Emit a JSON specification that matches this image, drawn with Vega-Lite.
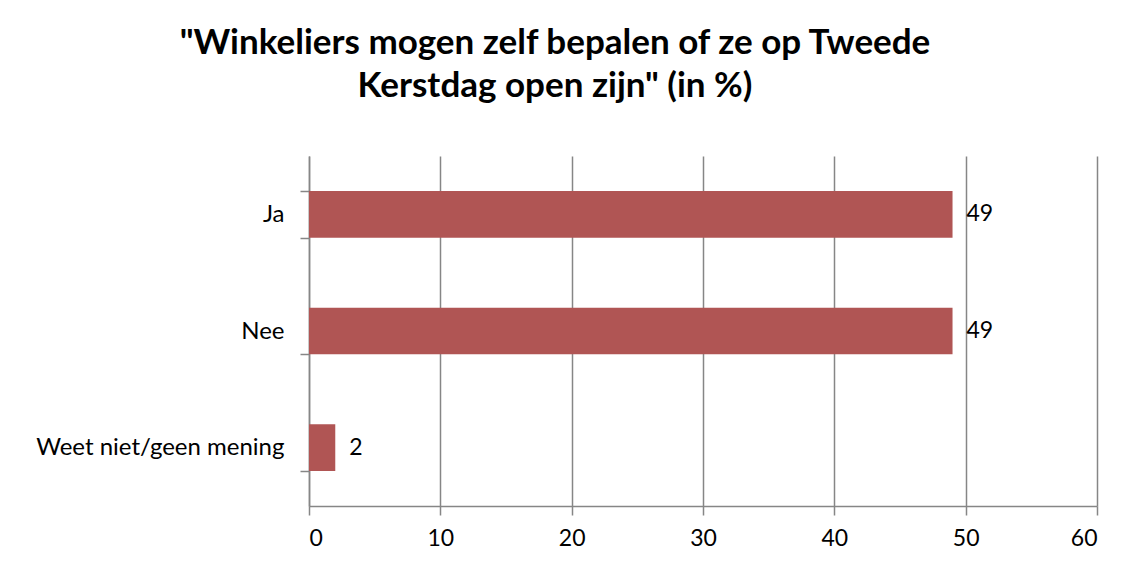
{
  "$schema": "https://vega.github.io/schema/vega-lite/v6.json",
  "autosize": {"type": "none"},
  "width": 788,
  "height": 350,
  "padding": {"left": 309, "top": 156, "right": 33, "bottom": 57},
  "background": "white",
  "title": {
    "text": ["\"Winkeliers mogen zelf bepalen of ze op Tweede", "Kerstdag open zijn\" (in %)"],
    "font": "Lato",
    "fontSize": 35,
    "fontWeight": "bold",
    "color": "black",
    "anchor": "middle",
    "frame": "group",
    "dx": -148,
    "lineHeight": 43,
    "offset": 40
  },
  "data": {"values": [
    {"antwoord": "Ja", "pct": 49},
    {"antwoord": "Nee", "pct": 49},
    {"antwoord": "Weet niet/geen mening", "pct": 2}
  ]},
  "encoding": {
    "y": {
      "field": "antwoord", "type": "nominal", "sort": null,
      "scale": {"paddingInner": 0.6, "paddingOuter": 0.3},
      "axis": {
        "title": null, "tickBand": "extent", "tickSize": 9, "tickColor": "#868686",
        "domainColor": "#868686", "domainWidth": 1.5, "tickWidth": 1.5,
        "labelFont": "Lato", "labelFontSize": 24, "labelColor": "black", "labelPadding": 16,
        "labelLimit": 400, "grid": false
      }
    },
    "x": {
      "field": "pct", "type": "quantitative",
      "scale": {"domain": [0, 60], "nice": false},
      "axis": {
        "title": null, "values": [0, 10, 20, 30, 40, 50, 60], "grid": true,
        "gridColor": "#868686", "gridWidth": 1.5, "gridOpacity": 1,
        "tickSize": 9, "tickColor": "#868686", "tickWidth": 1.5,
        "domainColor": "#868686", "domainWidth": 1.5,
        "labelFont": "Lato", "labelFontSize": 23, "labelColor": "black", "labelPadding": 12
      }
    }
  },
  "layer": [
    {"mark": {"type": "bar", "color": "#B05554"}},
    {"mark": {"type": "text", "align": "left", "dx": 14, "font": "Lato", "fontSize": 23, "color": "black"},
     "encoding": {"text": {"field": "pct", "type": "quantitative"}}}
  ],
  "config": {"view": {"stroke": null}}
}
